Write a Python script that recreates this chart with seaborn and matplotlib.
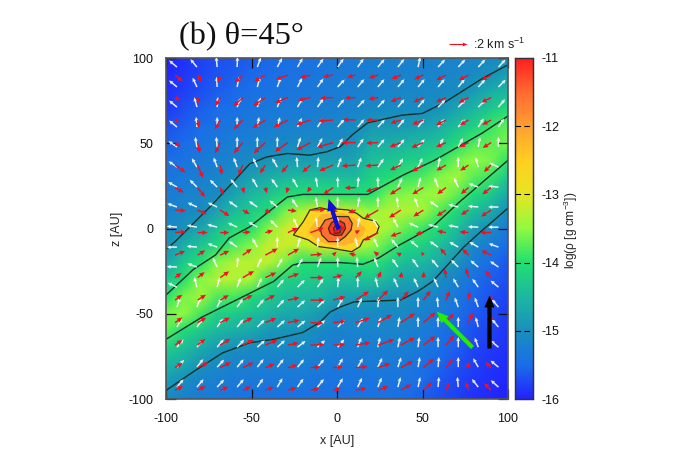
"""Density map with velocity and field vectors, panel (b) theta=45 deg."""

import numpy as np
import matplotlib
matplotlib.use("Agg")
import matplotlib.pyplot as plt
from matplotlib.colors import LinearSegmentedColormap
import seaborn as sns

# log density, one list per x = -100..100 (step 10),
# each running z = 100..-100 (step 10)
rho_columns = [
    [-16.0, -15.95, -15.9, -15.85, -15.7, -15.6, -15.5, -15.4, -15.3, -15.2, -15.1, -15.0, -14.75, -14.35, -14.0, -13.6, -13.75, -14.2, -14.55, -14.85, -15.1],
    [-15.9, -15.85, -15.8, -15.7, -15.6, -15.5, -15.4, -15.3, -15.2, -15.12, -14.95, -14.6, -14.3, -14.0, -13.6, -13.5, -14.05, -14.4, -14.7, -15.05, -15.2],
    [-15.8, -15.75, -15.7, -15.6, -15.5, -15.42, -15.33, -15.24, -15.15, -15.05, -14.75, -14.35, -14.0, -13.55, -13.4, -13.85, -14.3, -14.65, -14.95, -15.2, -15.3],
    [-15.7, -15.65, -15.6, -15.5, -15.42, -15.33, -15.25, -15.15, -15.05, -14.75, -14.4, -14.1, -13.55, -13.3, -13.8, -14.2, -14.5, -14.85, -15.1, -15.25, -15.35],
    [-15.65, -15.6, -15.52, -15.45, -15.35, -15.25, -15.15, -15.0, -14.75, -14.45, -14.1, -13.8, -13.3, -13.3, -13.85, -14.25, -14.6, -15.0, -15.2, -15.3, -15.4],
    [-15.6, -15.52, -15.45, -15.38, -15.3, -15.2, -15.05, -14.8, -14.5, -14.25, -14.0, -13.55, -13.25, -13.4, -14.05, -14.4, -14.7, -15.05, -15.25, -15.35, -15.45],
    [-15.55, -15.48, -15.42, -15.33, -15.25, -15.15, -14.95, -14.65, -14.35, -14.03, -13.55, -13.2, -13.25, -13.95, -14.3, -14.55, -14.9, -15.1, -15.25, -15.35, -15.45],
    [-15.5, -15.42, -15.37, -15.3, -15.22, -15.12, -14.85, -14.5, -14.1, -13.6, -13.15, -13.15, -13.65, -14.2, -14.45, -14.7, -14.95, -15.1, -15.25, -15.35, -15.45],
    [-15.45, -15.4, -15.35, -15.28, -15.2, -15.08, -14.85, -14.45, -14.0, -13.3, -13.0, -13.3, -14.0, -14.25, -14.5, -14.72, -14.95, -15.1, -15.25, -15.35, -15.45],
    [-15.4, -15.35, -15.3, -15.25, -15.17, -15.05, -14.8, -14.45, -14.0, -13.05, -13.0, -13.05, -14.0, -14.3, -14.55, -14.85, -15.1, -15.2, -15.3, -15.38, -15.45],
    [-15.35, -15.3, -15.27, -15.22, -15.13, -15.03, -14.8, -14.45, -14.0, -13.1, -13.0, -13.1, -14.0, -14.4, -14.75, -15.1, -15.2, -15.27, -15.33, -15.4, -15.45],
    [-15.3, -15.27, -15.23, -15.18, -15.08, -14.95, -14.75, -14.45, -14.0, -13.2, -13.0, -13.2, -14.0, -14.4, -14.8, -15.07, -15.17, -15.25, -15.33, -15.4, -15.45],
    [-15.27, -15.23, -15.2, -15.1, -14.9, -14.65, -14.4, -14.2, -14.0, -13.5, -13.2, -13.45, -13.95, -14.35, -14.85, -15.07, -15.17, -15.25, -15.3, -15.38, -15.45],
    [-15.25, -15.2, -15.15, -15.08, -14.9, -14.6, -14.35, -14.05, -13.65, -13.3, -13.4, -13.8, -14.2, -14.55, -14.95, -15.1, -15.17, -15.25, -15.3, -15.38, -15.45],
    [-15.23, -15.18, -15.13, -15.07, -14.85, -14.55, -14.25, -13.9, -13.55, -13.3, -13.7, -14.12, -14.45, -14.75, -14.97, -15.1, -15.18, -15.25, -15.32, -15.4, -15.5],
    [-15.22, -15.17, -15.12, -15.06, -14.8, -14.45, -14.15, -13.8, -13.5, -13.4, -13.9, -14.2, -14.5, -14.75, -15.1, -15.2, -15.28, -15.35, -15.42, -15.5, -15.6],
    [-15.2, -15.15, -15.1, -14.95, -14.65, -14.35, -13.95, -13.55, -13.4, -13.8, -14.1, -14.4, -14.7, -15.05, -15.2, -15.3, -15.4, -15.47, -15.55, -15.65, -15.7],
    [-15.18, -15.13, -15.03, -14.75, -14.4, -14.05, -13.65, -13.4, -13.7, -14.1, -14.4, -14.7, -14.95, -15.2, -15.35, -15.45, -15.55, -15.6, -15.67, -15.75, -15.8],
    [-15.15, -15.08, -14.85, -14.5, -14.2, -13.8, -13.5, -13.75, -14.05, -14.45, -14.8, -15.1, -15.3, -15.45, -15.55, -15.62, -15.7, -15.75, -15.8, -15.85, -15.9],
    [-15.1, -14.95, -14.6, -14.3, -13.9, -13.7, -13.6, -13.9, -14.3, -14.65, -15.07, -15.3, -15.5, -15.6, -15.67, -15.72, -15.78, -15.83, -15.87, -15.92, -15.96],
    [-15.1, -14.8, -14.5, -14.05, -13.7, -13.6, -13.95, -14.35, -14.7, -15.05, -15.3, -15.5, -15.65, -15.72, -15.78, -15.83, -15.87, -15.9, -15.93, -15.97, -16.0],
]

# contour lines (x, z) in AU
line_a_x = [-100, -95, -87, -73, -61, -51, -41, -29, -16, -6, 2, 9, 18, 38, 50, 63, 85, 100]
line_a_z = [-12, -8, 0, 14, 27, 38, 42, 44, 43, 45, 48, 55, 62, 66.5, 67.5, 74, 88, 96]
line_b_x = [-100, -84, -71, -63, -51, -41, -29, -20, 2, 18, 38, 57, 85, 100]
line_b_z = [-39, -24, -15.5, -5.5, 1, 9, 18.5, 20, 20, 20, 31, 40, 56, 66]
line_c_x = [-100, -79, -51, -37, -26, -20, 2, 15, 24, 36, 56, 71, 100]
line_c_z = [-65, -52, -38, -31, -21.5, -20, -20, -21, -17.5, -10, 1, 15, 40]
line_d_x = [-100, -84, -67, -51, -37, -20, -10, -4, 2, 10, 37, 47, 56, 65, 74, 85, 92, 100]
line_d_z = [-95, -84, -73, -67, -65, -61, -55, -49, -46, -43, -42, -37, -31, -21, -11, -1, 5, 12]

# closed contours round the core, with their levels
core_13_x = [-25.5, -19.7, -15.8, -9.9, -4.1, -0.2, 6.6, 11.5, 15.4, 22.2, 24.6, 23.2, 15.4, 13.4, 8.6, 2.7, -3.1, -10.9, -16.8]
core_13_z = [-3.8, 4.0, 10.9, 12.2, 10.9, 11.4, 10.9, 8.9, 6.0, 4.4, 1.1, -2.8, -6.7, -10.6, -13.6, -12.6, -11.6, -10.6, -6.7]
core_125_x = [-17, -13, -9, -3, 4, 10, 13, 17, 15, 10, 4, -4, -12]
core_125_z = [-2, 4, 8.5, 9, 9, 6, 3, 0, -4, -8, -10, -9.5, -7]
core_12_x = [-9.9, -7, -0.2, 6.6, 8.9, 8.2, 4.7, 0.8, -5, -8.9]
core_12_z = [0.1, 4.9, 7, 7, 3, -0.9, -4.9, -7.7, -7.7, -3.8]
core_115_x = [-5, -3.1, 0.8, 4.3, 5, 2.7, -1.2, -4]
core_115_z = [0.1, 3.6, 5, 3, 0, -3.8, -4.1, -2.9]
core_11_x = [-2, -0.2, 2.3, 1.7, -1.2]
core_11_z = [0.1, 2.5, 1, -2.4, -3]

# velocity vectors: tails, direction (deg) and length (9 = 1 km/s)
red_x = [-94.7, -81.5, -68.3, -55.1, -41.9, -28.7, -15.5, -2.3, 10.9, 24.1, 37.3, 50.5, 63.7, 76.9, 90.1]
red_z = [90, 76.8, 63.6, 50.4, 37.2, 24, 10.8, -2.4, -15.6, -28.8, -42, -55.2, -68.4, -81.6, -94.8]
red_angle = [
    [-40, -60, -110, -135, 210, 200, 195, 190, 195, 197, 203, 205, 208, 208, 208],
    [-30, -85, -120, -137, 215, 202, 193, 183, 183, 190, 203, 205, 205, 208, 207],
    [-30, -80, -120, -135, 212, 207, 198, 184, 177, 180, 198, 202, 207, 210, 208],
    [-35, -78, -115, -130, -137, 215, 208, 197, 180, 183, 202, 203, 205, 207, 213],
    [-35, -67, -80, -113, -123, -130, -138, 203, 184, 184, 205, 210, 210, 214, 224],
    [-30, -52, -65, -77, -75, -105, -125, -145, 182, 198, 213, 211, 217, 220, 218],
    [-3, -25, -33, -30, -30, -7, 2, -20, 200, 210, 213, 213, 213, 213, 213],
    [5, 0, 0, 5, 15, 25, 20, 25, 30, 210, 200, 190, 170, 175, 180],
    [22, 32, 25, 35, 28, 30, 5, 45, 165, 140, 150, 120, 130, 135, 155],
    [35, 38, 35, 30, 25, 20, 0, 15, 45, 65, 80, 85, 97, 106, 130],
    [37, 33, 30, 27, 27, 12, 0, 15, 33, 45, 48, 52, 67, 82, 90],
    [35, 30, 27, 27, 22, 12, -3, 7, 18, 30, 33, 40, 50, 68, 90],
    [35, 40, 32, 25, 23, 12, 3, 3, 10, 20, 28, 37, 50, 85, 100],
    [33, 26, 27, 25, 22, 15, 5, 5, 5, 20, 28, 40, 50, 97, 135],
    [27, 25, 22, 23, 20, 16, 10, 10, 10, 20, 28, 42, 63, 110, 135],
]
red_len = [
    [10, 8, 8, 11, 13, 13, 11, 10, 9, 10, 10, 10, 11, 11, 11],
    [6, 6, 10, 13, 15, 14, 13, 13, 11, 10, 11, 11, 11, 11, 11],
    [5, 8, 11, 13, 15, 16, 15, 15, 13, 12, 11, 12, 11, 10, 10],
    [7, 11, 12, 14, 16, 16, 16, 17, 14, 12, 12, 13, 11, 10, 10],
    [13, 14, 10, 11, 10, 10, 11, 15, 14, 13, 12, 13, 11, 10, 10],
    [10, 12, 8, 6, 6, 6, 6, 12, 11, 13, 13, 13, 11, 10, 11],
    [11, 10, 11, 8, 6, 9, 15, 5, 8, 16, 14, 12, 11, 9, 12],
    [11, 10, 9, 8, 8, 11, 14, 14, 5, 16, 11, 8, 9, 9, 11],
    [11, 9, 10, 11, 14, 13, 12, 5, 7, 6, 5, 4, 9, 9, 11],
    [8, 9, 11, 13, 12, 12, 13, 10, 9, 7, 6, 6, 9, 10, 9],
    [9, 10, 10, 11, 11, 12, 14, 13, 16, 14, 12, 12, 10, 9, 5],
    [9, 10, 11, 11, 12, 12, 13, 13, 15, 16, 17, 16, 12, 11, 8],
    [9, 10, 12, 12, 13, 11, 14, 12, 15, 17, 16, 15, 13, 7, 6],
    [9, 12, 12, 12, 10, 10, 10, 10, 12, 13, 14, 14, 11, 6, 8],
    [9, 9, 9, 9, 9, 9, 9, 8, 11, 11, 12, 12, 9, 9, 10],
]

# field directions (deg), all drawn with the same length
white_x = [-93.6, -81.9, -70.1, -58.4, -46.6, -34.9, -23.1, -11.4, 0.4, 12.1, 23.9, 35.6, 47.4, 59.1, 70.9, 82.6, 94.4]
white_z = [94.7, 83, 71.2, 59.5, 47.8, 36, 24.3, 12.6, 0.8, -10.9, -22.6, -34.4, -46.1, -57.8, -69.6, -81.3, -93]
white_angle = [
    [140, 130, 95, 88, 70, 62, 60, 55, 55, 55, 50, 52, 78, 47, 47, 47, 47],
    [140, 115, 93, 80, 75, 70, 63, 55, 47, 50, 50, 50, 50, 50, 50, 47, 45],
    [140, 105, 85, 68, 70, 68, 60, 55, 50, 47, 47, 50, 50, 45, 45, 45, 50],
    [140, 95, 90, 90, 80, 75, 65, 58, 50, 50, 47, 50, 52, 52, 50, 58, 57],
    [145, 100, 95, 90, 90, 90, 72, 62, 60, 55, 50, 50, 50, 58, 62, 80, 90],
    [145, 120, 110, 110, 115, 120, 95, 85, 70, 70, 55, 60, 65, 80, 90, 105, 155],
    [150, 135, 135, 130, 120, 125, 120, 100, 90, 85, 90, 65, 75, 110, 115, 160, 175],
    [160, 155, 155, 145, 145, 140, 125, 100, 90, 80, 90, 95, 110, 145, 165, 175, 180],
    [175, 170, 165, 155, 150, 135, 115, 100, 90, 80, 120, 118, 155, 165, 170, 178, 180],
    [180, 175, 160, 145, 120, 90, 75, 85, 90, 105, 115, 130, 140, 145, 150, 150, 160],
    [178, 160, 115, 85, 65, 60, 60, 70, 90, 95, 110, 125, 125, 130, 135, 140, 145],
    [155, 105, 75, 70, 65, 50, 45, 55, 85, 90, 105, 115, 115, 115, 120, 125, 140],
    [72, 70, 65, 55, 50, 47, 42, 45, 60, 65, 85, 90, 90, 95, 110, 110, 130],
    [60, 55, 55, 50, 45, 42, 40, 42, 45, 60, 72, 80, 90, 90, 90, 105, 130],
    [50, 50, 50, 47, 42, 42, 38, 42, 50, 70, 78, 78, 83, 90, 90, 110, 140],
    [45, 52, 47, 50, 52, 52, 50, 50, 60, 60, 65, 72, 80, 85, 90, 120, 140],
    [50, 50, 47, 50, 55, 60, 55, 52, 60, 65, 68, 75, 78, 85, 95, 128, 138],
]
white_len = 6.0

# the three large arrows: tail and tip in AU
blue_arrow = ([0.5, 0], [-5.3, 17.9])
green_arrow = ([79, -69.5], [58, -48.4])
black_arrow = ([89, -70], [89, -39])

x_ticks = [-100, -50, 0, 50, 100]
z_ticks = [-100, -50, 0, 50, 100]
cbar_ticks = [-16, -15, -14, -13, -12, -11]
palette = ["#2222ff", "#1a6ee8", "#1890bc", "#1cb8a0", "#20e070", "#90fa40",
           "#e6e620", "#ffcf20", "#ffa030", "#ff6a30", "#ff2020"]

AU_PER_PX = 1 / 1.71
AU_PER_KMS = 18 * AU_PER_PX / 2

sns.set_theme(style="ticks")
plt.rcParams["font.family"] = ["Liberation Sans", "DejaVu Sans"]
plt.rcParams["mathtext.fontset"] = "custom"
plt.rcParams["mathtext.rm"] = "Liberation Sans"
plt.rcParams["mathtext.default"] = "regular"
plt.rcParams["axes.unicode_minus"] = False

W, H = 673, 471
fig = plt.figure(figsize=(W / 100, H / 100), dpi=100)
pos = [166 / W, 1 - 399 / H, 342 / W, 341 / H]
ax_map = fig.add_axes(pos)
cax = fig.add_axes([515 / W, 1 - 399 / H, 18 / W, 341 / H])

cmap = LinearSegmentedColormap.from_list("rho", palette)
rho = np.array(rho_columns).T
sns.heatmap(rho, vmin=-16, vmax=-11, cmap=cmap, ax=ax_map, cbar_ax=cax,
            shading="gouraud", xticklabels=False, yticklabels=False)
ax_map.set_xlim(0, rho.shape[1] - 1)
ax_map.set_ylim(rho.shape[0] - 1, 0)
ax_map.tick_params(length=0)

# everything else goes on a transparent axes in AU on top of the map
ax = fig.add_axes(pos, facecolor="none")
ax.set_xlim(-100, 100)
ax.set_ylim(-100, 100)
ax.set_xticks(x_ticks)
ax.set_yticks(z_ticks)
ax.tick_params(direction="in", length=7, width=0.9, top=True, right=True,
               labelsize=9, colors="#111111")
ax.tick_params(axis="x", pad=10)
ax.tick_params(axis="y", pad=9)
for spine in ax.spines.values():
    spine.set_visible(True)
    spine.set_color("#555555")
    spine.set_linewidth(1.2)
ax.set_xlabel("x [AU]", fontsize=9, labelpad=7, color="#222222")
ax.set_ylabel("z [AU]", fontsize=9, labelpad=4, color="#222222")

# core fills first, then contour lines
for cx, cz, level, edge in [(core_13_x, core_13_z, -12.6, True),
                            (core_125_x, core_125_z, -12.2, False),
                            (core_12_x, core_12_z, -11.55, True),
                            (core_115_x, core_115_z, -11.1, True),
                            (core_11_x, core_11_z, -11.0, True)]:
    ax.fill(cx, cz, color=cmap((level + 16) / 5), lw=0, zorder=1)
    if edge:
        ax.fill(cx, cz, fill=False, ec="#333311", lw=0.9, zorder=2)

for lx, lz in [(line_a_x, line_a_z), (line_b_x, line_b_z),
               (line_c_x, line_c_z), (line_d_x, line_d_z)]:
    sns.lineplot(x=lx, y=lz, sort=False, estimator=None, ax=ax, color="#10302a",
                 lw=1.0, zorder=2)

white_xx, white_zz = np.meshgrid(white_x, white_z)
white_rad = np.deg2rad(white_angle)
ax.quiver(white_xx, white_zz, white_len * np.cos(white_rad), white_len * np.sin(white_rad),
          angles="xy", scale_units="xy", scale=1, pivot="tail", color="white", units="dots",
          width=1.5, headwidth=2.6, headlength=2.8, headaxislength=2.5, alpha=0.9, zorder=3)

red_xx, red_zz = np.meshgrid(red_x, red_z)
red_rad = np.deg2rad(red_angle)
red_speed = np.array(red_len) / 9
ax.quiver(red_xx, red_zz, red_speed * AU_PER_KMS * np.cos(red_rad),
          red_speed * AU_PER_KMS * np.sin(red_rad),
          angles="xy", scale_units="xy", scale=1, pivot="tail", color="#f01020", units="dots",
          width=1.4, headwidth=3.6, headlength=4, headaxislength=3.6, zorder=4)

for (tail, tip), colour in [(green_arrow, "#20f000"), (black_arrow, "black"), (blue_arrow, "#1010d0")]:
    ax.quiver(tail[0], tail[1], tip[0] - tail[0], tip[1] - tail[1], angles="xy",
              scale_units="xy", scale=1, color=colour, units="dots", width=4.2,
              headwidth=2.4, headlength=2.8, headaxislength=2.8, zorder=5)

# velocity key above the frame
ax.quiver(65.5, 108, 2 * AU_PER_KMS, 0, angles="xy", scale_units="xy", scale=1,
          color="#f01020", units="dots", width=1.1, headwidth=3.6, headlength=4.5,
          headaxislength=4, clip_on=False, zorder=5)
fig.text(473 / W, 1 - 44 / H, ":2 km s$^{-1}$", fontsize=9, va="center", color="#222222")

fig.text(179 / W, 1 - 44 / H, "(b) θ=45°", fontsize=23.3, family="Liberation Serif",
         va="baseline", color="#111111")

# colour bar
cax.set_yticks(cbar_ticks)
cax.set_yticklabels([str(t) for t in cbar_ticks])
cax.tick_params(axis="y", length=0, labelsize=9, pad=6, colors="#111111")
for t in cbar_ticks[1:-1]:
    cax.plot([0, 1], [t, t], color="black", lw=0.8, ls=(0, (5, 3)),
             transform=cax.get_yaxis_transform())
for spine in cax.spines.values():
    spine.set_visible(True)
    spine.set_color("#333333")
    spine.set_linewidth(0.9)
fig.text(571 / W, 1 - 230 / H, "log(ρ [g cm$^{-3}$])", rotation=90, fontsize=8.6,
         ha="center", va="center", color="#222222")

fig.savefig("out.png", dpi=100)
plt.close(fig)
